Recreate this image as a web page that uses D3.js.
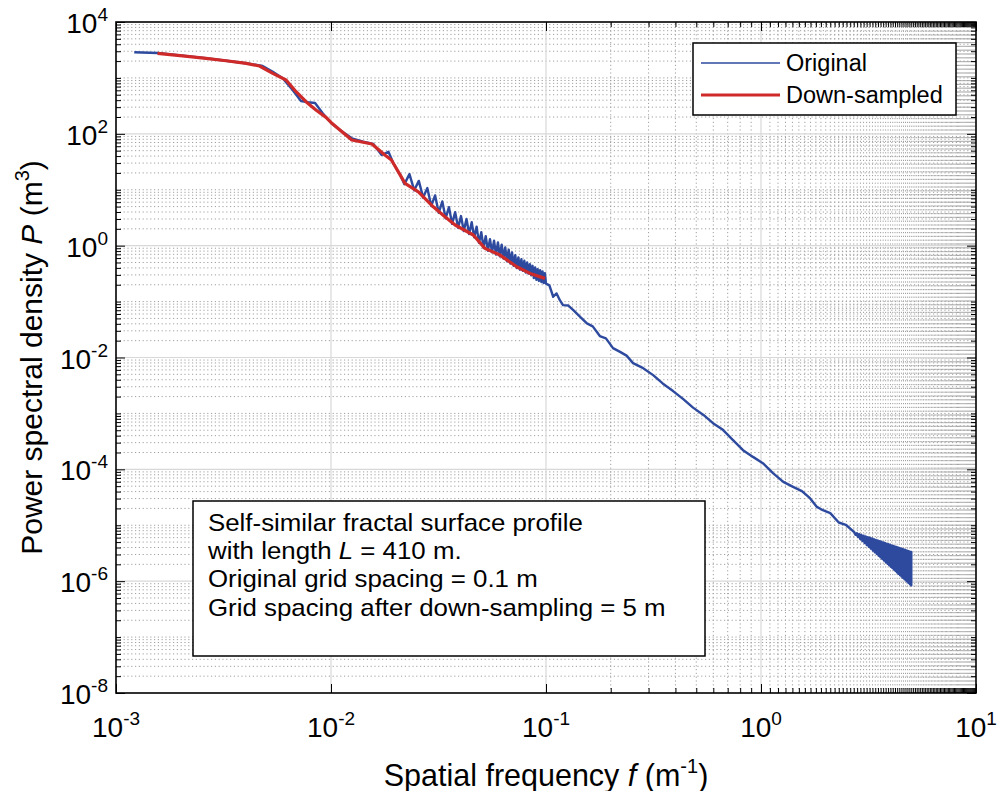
<!DOCTYPE html>
<html>
<head>
<meta charset="utf-8">
<style>
body { margin: 0; background: #fff; }
text { font-family: "Liberation Sans", Arial, sans-serif; fill: #000; }
</style>
</head>
<body>
<script src="https://d3js.org/d3.v7.min.js"></script>
<script>

const width = 997;
const height = 791;
const margin = {top: 22, right: 21, bottom: 98, left: 116};

// original profile, spatial frequency (1/m) and PSD (m^3)
const origF = [
  0.001216, 0.00156, 0.00204, 0.00262, 0.00325, 0.00403, 0.00481, 0.00536, 0.00596, 0.00663,
  0.00725, 0.00785, 0.00843, 0.00915, 0.0100, 0.0110, 0.0125, 0.0141, 0.01574, 0.0172,
  0.0185, 0.0195, 0.0210,
  0.02195, 0.02317, 0.02439, 0.02561, 0.02683, 0.02805, 0.02927, 0.03049, 0.03171, 0.03293,
  0.03415, 0.03537, 0.03659, 0.03780, 0.03902, 0.04024, 0.04146, 0.04268, 0.04390, 0.04512,
  0.04634, 0.04756, 0.04878, 0.05000, 0.05122, 0.05244, 0.05366, 0.05488, 0.05610, 0.05732,
  0.05854, 0.05976, 0.06098, 0.06220, 0.06341, 0.06463, 0.06585, 0.06707, 0.06829, 0.06951,
  0.07073, 0.07195, 0.07317, 0.07439, 0.07561, 0.07683, 0.07805, 0.07927, 0.08049, 0.08171,
  0.08293, 0.08415, 0.08537, 0.08659, 0.08780, 0.08902, 0.09024, 0.09146, 0.09268, 0.09390,
  0.09512, 0.09634, 0.09756, 0.09878, 0.1000,
  0.1037, 0.108, 0.112, 0.116, 0.120, 0.127, 0.134, 0.145, 0.155, 0.165,
  0.178, 0.190, 0.205, 0.221, 0.237, 0.254, 0.280, 0.315, 0.350, 0.390,
  0.435, 0.483, 0.540, 0.598, 0.665, 0.741, 0.825, 0.918, 1.02, 1.137,
  1.27, 1.41, 1.55, 1.69, 1.82, 1.94, 2.10, 2.30, 2.48, 2.68,
  2.72, 2.755, 2.79, 2.825, 2.86, 2.895, 2.93, 2.965, 3.00, 3.035,
  3.07, 3.105, 3.14, 3.175, 3.21, 3.245, 3.28, 3.315, 3.35, 3.385,
  3.42, 3.455, 3.49, 3.525, 3.56, 3.595, 3.63, 3.665, 3.70, 3.735,
  3.77, 3.805, 3.84, 3.875, 3.91, 3.945, 3.98, 4.015, 4.05, 4.085,
  4.12, 4.155, 4.19, 4.225, 4.26, 4.295, 4.33, 4.365, 4.40, 4.435,
  4.47, 4.505, 4.54, 4.575, 4.61, 4.645, 4.68, 4.715, 4.75, 4.785,
  4.82, 4.855, 4.89, 4.925, 4.96, 4.995, 5.00, 5.00
];
const origP = [
  2870, 2790, 2500, 2260, 2030, 1830, 1630, 1290, 984, 608,
  386, 368, 356, 233, 158, 117, 83, 72.3, 65.7, 41.8,
  47.9, 29.7, 18.3,
  12.6, 19.0, 9.77, 14.4, 7.24, 10.7, 5.13, 7.93, 3.89, 6.16,
  3.09, 4.89, 2.45, 3.98, 2.09, 3.38, 1.82, 3.01, 1.62, 2.62,
  1.41, 2.18, 1.12, 1.74, 0.912, 1.48, 0.813, 1.31, 0.759, 1.23,
  0.692, 1.14, 0.646, 1.045, 0.589, 0.932, 0.525, 0.850, 0.479, 0.757,
  0.437, 0.675, 0.398, 0.616, 0.372, 0.575, 0.355, 0.536, 0.331, 0.501,
  0.316, 0.467, 0.295, 0.436, 0.263, 0.407, 0.245, 0.380, 0.234, 0.363,
  0.224, 0.346, 0.214, 0.323, 0.209,
  0.195, 0.122, 0.140, 0.106, 0.0865, 0.085, 0.0705, 0.052, 0.0407, 0.036,
  0.0242, 0.022, 0.0147, 0.0126, 0.0108, 0.00794, 0.0066, 0.00484, 0.0034, 0.00251,
  0.00180, 0.00127, 0.00094, 6.70e-4, 5.08e-4, 3.33e-4, 2.20e-4, 1.67e-4, 1.29e-4, 8.55e-5,
  5.98e-5, 4.86e-5, 4.09e-5, 3.05e-5, 2.13e-5, 1.86e-5, 1.65e-5, 1.12e-5, 1.02e-5, 7.84e-6,
  7.43e-6, 6.73e-6, 7.19e-6, 6.16e-6, 6.95e-6, 5.66e-6, 6.73e-6, 5.21e-6, 6.52e-6, 4.80e-6,
  6.32e-6, 4.43e-6, 6.14e-6, 4.10e-6, 5.96e-6, 3.80e-6, 5.79e-6, 3.53e-6, 5.63e-6, 3.28e-6,
  5.48e-6, 3.06e-6, 5.33e-6, 2.85e-6, 5.19e-6, 2.66e-6, 5.06e-6, 2.49e-6, 4.93e-6, 2.33e-6,
  4.81e-6, 2.18e-6, 4.69e-6, 2.05e-6, 4.58e-6, 1.93e-6, 4.48e-6, 1.81e-6, 4.37e-6, 1.71e-6,
  4.27e-6, 1.61e-6, 4.18e-6, 1.52e-6, 4.09e-6, 1.43e-6, 4.00e-6, 1.35e-6, 3.92e-6, 1.28e-6,
  3.83e-6, 1.21e-6, 3.75e-6, 1.15e-6, 3.68e-6, 1.09e-6, 3.61e-6, 1.035e-6, 3.54e-6, 9.83e-7,
  3.47e-6, 9.35e-7, 3.40e-6, 8.89e-7, 3.34e-6, 8.46e-7, 3.33e-6, 8.43e-7
];

// down-sampled profile
const downF = [
  0.00156, 0.00204, 0.00262, 0.00325, 0.00403, 0.00465, 0.00536, 0.00618, 0.00688, 0.00765,
  0.00851, 0.00948, 0.0100, 0.0110, 0.0125, 0.0155, 0.0178, 0.0191, 0.0221, 0.0255,
  0.0299, 0.0339, 0.0378, 0.0459, 0.0520, 0.0611, 0.0731, 0.0843, 0.0989
];
const downP = [
  2750, 2470, 2240, 2030, 1825, 1633, 1208, 916, 566, 375,
  267, 197, 160, 117, 77.5, 65.7, 41.8, 34.0, 13.0, 9.20,
  4.96, 3.29, 2.34, 1.55, 0.895, 0.679, 0.420, 0.319, 0.260
];

const xTicks = [1e-3, 1e-2, 1e-1, 1, 10];
const xTickExp = ['-3', '-2', '-1', '0', '1'];
const yTicks = [1e-8, 1e-6, 1e-4, 1e-2, 1, 1e2, 1e4];
const yTickExp = ['-8', '-6', '-4', '-2', '0', '2', '4'];

const seriesNames = ['Original', 'Down-sampled'];
const seriesColors = ['#2d4a9e', '#cf2a2a'];

const noteLines = [
  [['Self-similar fractal surface profile']],
  [['with length '], ['L', true], [' = 410 m.']],
  [['Original grid spacing = 0.1 m']],
  [['Grid spacing after down-sampling = 5 m']]
];

const svg = d3.select('body')
              .append('svg')
              .attr('width', width)
              .attr('height', height);

const x = d3.scaleLog()
            .domain([1e-3, 10])
            .range([margin.left, width - margin.right]);
const y = d3.scaleLog()
            .domain([1e-8, 1e4])
            .range([height - margin.bottom, margin.top]);

const x0 = margin.left, x1 = width - margin.right;
const y0 = height - margin.bottom, y1 = margin.top;

const isLabelled = (v, list) => list.some(t => Math.abs(Math.log10(t) - Math.log10(v)) < 1e-6);

const xMinor = x.ticks(100).filter(v => !isLabelled(v, xTicks));
const yMinor = y.ticks(200).filter(v => !isLabelled(v, yTicks));

// grid
const grid = svg.append('g');
grid.selectAll('.vminor').data(xMinor).enter().append('line')
    .attr('x1', d => x(d)).attr('x2', d => x(d))
    .attr('y1', y0).attr('y2', y1)
    .attr('stroke', '#a0a0a0').attr('stroke-width', 1)
    .attr('stroke-dasharray', '1.2,2.6');
grid.selectAll('.hminor').data(yMinor).enter().append('line')
    .attr('x1', x0).attr('x2', x1)
    .attr('y1', d => y(d)).attr('y2', d => y(d))
    .attr('stroke', '#a0a0a0').attr('stroke-width', 1)
    .attr('stroke-dasharray', '1.2,2.6');
grid.selectAll('.vmajor').data(xTicks.slice(1, -1)).enter().append('line')
    .attr('x1', d => x(d)).attr('x2', d => x(d))
    .attr('y1', y0).attr('y2', y1)
    .attr('stroke', '#d8d8d8').attr('stroke-width', 1.2);
grid.selectAll('.hmajor').data(yTicks.slice(1, -1)).enter().append('line')
    .attr('x1', x0).attr('x2', x1)
    .attr('y1', d => y(d)).attr('y2', d => y(d))
    .attr('stroke', '#d8d8d8').attr('stroke-width', 1.2);

// inward ticks on all four sides
function ticks(axis, tx, ty, values, size) {
  const g = svg.append('g')
     .attr('transform', `translate(${tx},${ty})`)
     .call(axis.tickValues(values).tickSizeInner(-size).tickSizeOuter(0).tickFormat(''));
  g.select('.domain').remove();
  g.selectAll('line').attr('stroke', '#000').attr('stroke-width', 1);
}
ticks(d3.axisBottom(x), 0, y0, xTicks, 9);
ticks(d3.axisBottom(x), 0, y0, xMinor, 5);
ticks(d3.axisTop(x), 0, y1, xTicks, 9);
ticks(d3.axisTop(x), 0, y1, xMinor, 5);
ticks(d3.axisLeft(y), x0, 0, yTicks, 9);
ticks(d3.axisLeft(y), x0, 0, yMinor, 5);
ticks(d3.axisRight(y), x1, 0, yTicks, 9);
ticks(d3.axisRight(y), x1, 0, yMinor, 5);

// curves
const line = d3.line()
               .x(d => x(d[0]))
               .y(d => y(d[1]));

svg.append('path')
   .datum(d3.zip(origF, origP))
   .attr('d', line)
   .attr('fill', 'none')
   .attr('stroke', seriesColors[0])
   .attr('stroke-width', 2.4)
   .attr('stroke-linejoin', 'round');

svg.append('path')
   .datum(d3.zip(downF, downP))
   .attr('d', line)
   .attr('fill', 'none')
   .attr('stroke', seriesColors[1])
   .attr('stroke-width', 3.2)
   .attr('stroke-linejoin', 'round');

// frame
svg.append('rect')
   .attr('x', x0).attr('y', y1)
   .attr('width', x1 - x0).attr('height', y0 - y1)
   .attr('fill', 'none').attr('stroke', '#000').attr('stroke-width', 1.6);

// tick labels
svg.append('g').selectAll('text')
   .data(xTicks).enter().append('text')
   .attr('x', d => x(d)).attr('y', y0 + 44)
   .attr('text-anchor', 'middle')
   .style('font-size', '28px')
   .each(function(d, i) {
     const t = d3.select(this);
     t.append('tspan').text('10');
     t.append('tspan').attr('dy', -12).style('font-size', '19px').text(xTickExp[i]);
   });

svg.append('g').selectAll('text')
   .data(yTicks).enter().append('text')
   .attr('x', x0 - 8).attr('y', d => y(d) + 11)
   .attr('text-anchor', 'end')
   .style('font-size', '28px')
   .each(function(d, i) {
     const t = d3.select(this);
     t.append('tspan').text('10');
     t.append('tspan').attr('dy', -12).style('font-size', '19px').text(yTickExp[i]);
   });

// axis titles
const xt = svg.append('text')
   .attr('x', 546).attr('y', 786)
   .attr('text-anchor', 'middle')
   .style('font-size', '30.5px');
xt.append('tspan').text('Spatial frequency  ');
xt.append('tspan').style('font-style', 'italic').text('f');
xt.append('tspan').text(' (m');
xt.append('tspan').attr('dy', -13).style('font-size', '20px').text('-1');
xt.append('tspan').attr('dy', 13).text(')');

const yt = svg.append('text')
   .attr('transform', `translate(42,${(y0 + y1) / 2}) rotate(-90)`)
   .attr('text-anchor', 'middle')
   .style('font-size', '30px');
yt.append('tspan').text('Power spectral density  ');
yt.append('tspan').style('font-style', 'italic').text('P');
yt.append('tspan').text(' (m');
yt.append('tspan').attr('dy', -13).style('font-size', '20px').text('3');
yt.append('tspan').attr('dy', 13).text(')');

// legend
const legend = svg.append('g');
legend.append('rect')
   .attr('x', 693).attr('y', 43).attr('width', 263).attr('height', 72)
   .attr('fill', '#fff').attr('stroke', '#000').attr('stroke-width', 1.5);
seriesNames.forEach((name, i) => {
  const ly = 63 + i * 32;
  legend.append('line')
     .attr('x1', 701).attr('x2', 780).attr('y1', ly).attr('y2', ly)
     .attr('stroke', seriesColors[i]).attr('stroke-width', i === 0 ? 1.6 : 3);
  legend.append('text')
     .attr('x', 786).attr('y', ly + 8)
     .style('font-size', '23.5px')
     .text(name);
});

// annotation box
const note = svg.append('g');
note.append('rect')
   .attr('x', 193).attr('y', 501).attr('width', 512).attr('height', 155)
   .attr('fill', '#fff').attr('stroke', '#000').attr('stroke-width', 1.5);
noteLines.forEach((parts, i) => {
  const t = note.append('text')
     .attr('transform', `translate(208,${531 + i * 28.2}) scale(1.06,1)`)
     .style('font-size', '24.4px');
  parts.forEach(p => {
    const s = t.append('tspan').text(p[0]);
    if (p[1]) s.style('font-style', 'italic');
  });
});

</script>
</body>
</html>
